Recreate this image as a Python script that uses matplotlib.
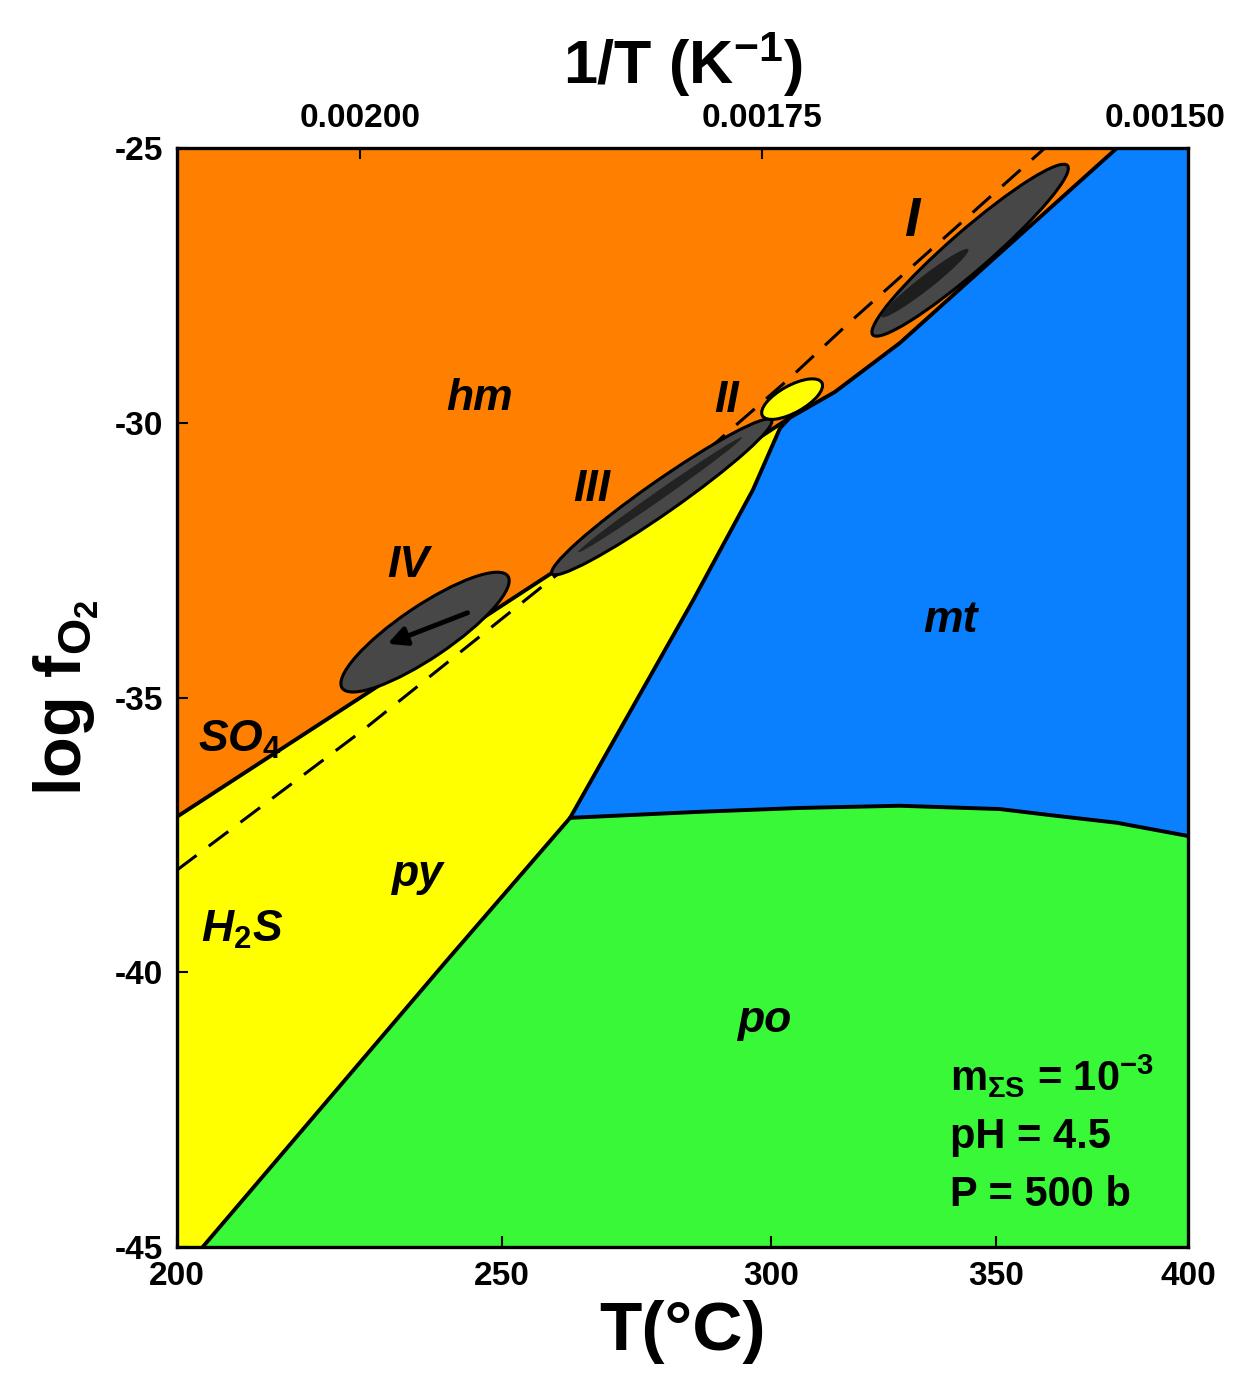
import numpy as np
import matplotlib
matplotlib.use("Agg")
import matplotlib.pyplot as plt
from matplotlib.patches import Ellipse
from matplotlib.transforms import ScaledTranslation

plt.rcParams["font.family"] = ["Liberation Sans", "DejaVu Sans"]
plt.rcParams["font.weight"] = "bold"
plt.rcParams["mathtext.fontset"] = "custom"
plt.rcParams["mathtext.rm"] = "Liberation Sans:bold"
plt.rcParams["mathtext.bf"] = "Liberation Sans:bold"
plt.rcParams["mathtext.it"] = "Liberation Sans:italic:bold"

# phase boundaries (T in degC, log fO2)
HM_PY_T = [200.0, 246.2, 303.9]
HM_PY_F = [-37.17, -33.59, -29.91]
HM_MT_T = [303.9, 313.4, 327.6, 380.6]
HM_MT_F = [-29.91, -29.44, -28.55, -25.0]
PY_MT_T = [303.9, 301.9, 296.4, 284.6, 261.8]
PY_MT_F = [-29.91, -30.10, -31.22, -33.23, -37.19]
PO_PY_T = [261.8, 240.8, 203.6]
PO_PY_F = [-37.19, -39.78, -45.0]
PO_MT_T = [261.8, 285.9, 306.0, 327.6, 350.9, 363.3, 380.6, 400.0]
PO_MT_F = [-37.19, -37.08, -37.01, -36.97, -37.03, -37.14, -37.28, -37.52]
# SO4 / H2S equal-activity line (dashed)
SO4_H2S_T = [200.0, 227.4, 249.1, 276.4, 303.9, 316.6, 362.0]
SO4_H2S_F = [-38.14, -35.59, -33.64, -31.41, -29.19, -28.17, -25.0]

# fluid inclusion fields I-IV: centre T, centre log fO2
FIELD_NAMES = ["IV", "III-II", "II", "I"]
FIELD_T = [237.2, 278.6, 304.4, 343.8]
FIELD_F = [-33.81, -31.35, -29.57, -26.86]
# trend arrow inside field IV
ARROW_T = [244.6, 230.8]
ARROW_F = [-33.44, -34.04]

# region labels
REGION_TEXT = ["hm", "mt", "py", "po", "III", "II", "IV"]
REGION_T = [246.2, 339.1, 236.1, 298.8, 265.7, 291.2, 234.5]
REGION_F = [-29.55, -33.59, -38.23, -40.87, -31.22, -29.59, -32.59]

T_TICKS = [200, 250, 300, 350, 400]
INV_TICKS = [0.00200, 0.00175, 0.00150]
INV_TICK_LABELS = ["0.00200", "0.00175", "0.00150"]
F_TICKS = [-25, -30, -35, -40, -45]
T_MIN, T_MAX = 200.0, 400.0
F_MIN, F_MAX = -45.0, -25.0

ORANGE = "#FF8000"
BLUE = "#0A80FF"
YELLOW = "#FFFF00"
GREEN = "#38F838"
DARK = "#474747"


def inv(t):
    return 1.0 / (np.asarray(t, dtype=float) + 273.15)


fig = plt.figure(figsize=(12.36, 13.91), dpi=100)
ax = fig.add_axes([177 / 1236, 144 / 1391, 1011 / 1236, 1099 / 1391])
ax.set_facecolor(ORANGE)

# mineral fields
py_t = HM_PY_T + PY_MT_T[1:] + PO_PY_T[1:] + [T_MIN]
py_f = HM_PY_F + PY_MT_F[1:] + PO_PY_F[1:] + [F_MIN]
ax.fill(inv(py_t), py_f, color=YELLOW, lw=0, zorder=1)

mt_t = HM_MT_T + [T_MAX] + PO_MT_T[::-1] + PY_MT_T[::-1][1:]
mt_f = HM_MT_F + [F_MAX] + PO_MT_F[::-1] + PY_MT_F[::-1][1:]
ax.fill(inv(mt_t), mt_f, color=BLUE, lw=0, zorder=1)

po_t = PO_MT_T + [T_MAX] + PO_PY_T[::-1]
po_f = PO_MT_F + [F_MIN] + PO_PY_F[::-1]
ax.fill(inv(po_t), po_f, color=GREEN, lw=0, zorder=1)

line_kw = dict(color="black", lw=2.8, solid_capstyle="round", zorder=3)
for tt, ff in [(HM_PY_T, HM_PY_F), (HM_MT_T, HM_MT_F), (PY_MT_T, PY_MT_F),
               (PO_PY_T, PO_PY_F), (PO_MT_T, PO_MT_F)]:
    ax.plot(inv(tt), ff, **line_kw)
ax.plot(inv(SO4_H2S_T), SO4_H2S_F, color="black", lw=2.2,
        linestyle=(0, (8, 5)), zorder=2)


def field(t, f, length, width, angle, **kw):
    tr = fig.dpi_scale_trans + ScaledTranslation(inv(t), f, ax.transData)
    ax.add_patch(Ellipse((0, 0), length / 100, width / 100, angle=angle,
                         transform=tr, **kw))


# sizes in pixels, angles in degrees
field(FIELD_T[0], FIELD_F[0], 200, 52, 34, fc=DARK, ec="black", lw=2.2, zorder=4)
field(FIELD_T[1], FIELD_F[1], 268, 32, 35, fc=DARK, ec="black", lw=2.2, zorder=4)
field(278.3, -31.31, 200, 9, 35, fc="#222222", ec="none", zorder=4)
field(FIELD_T[2], FIELD_F[2], 68, 27, 29, fc=YELLOW, ec="black", lw=2.2, zorder=4)
field(FIELD_T[3], FIELD_F[3], 258, 40, 41, fc=DARK, ec="black", lw=2.2, zorder=4)
field(333.3, -27.46, 110, 14, 38, fc="#1e1e1e", ec="none", zorder=4)

ax.annotate("", xy=(inv(ARROW_T[1]), ARROW_F[1]), xytext=(inv(ARROW_T[0]), ARROW_F[0]),
            arrowprops=dict(arrowstyle="-|>", color="black", lw=3.5, mutation_scale=28),
            zorder=5)

lab_kw = dict(fontsize=32, fontstyle="italic", fontweight="bold",
              ha="center", va="center", zorder=6)
for s, tt, ff in zip(REGION_TEXT, REGION_T, REGION_F):
    ax.text(inv(tt), ff, s, **lab_kw)
ax.text(inv(330.3), -26.35, "I", fontsize=40, fontstyle="italic",
        fontweight="bold", ha="center", va="center", zorder=6)
ax.text(inv(208.9), -35.77, r"SO$_{\mathit{4}}$", **lab_kw)
ax.text(inv(209.3), -39.23, r"H$_{\mathit{2}}$S", **lab_kw)

# conditions
ax.text(inv(339.0), -41.9, r"m$_{\Sigma \mathrm{S}}$ = 10$^{-3}$", fontsize=30,
        fontweight="bold", ha="left", va="center", zorder=6)
ax.text(inv(339.0), -43.0, "pH = 4.5", fontsize=30, fontweight="bold",
        ha="left", va="center", zorder=6)
ax.text(inv(339.0), -44.05, "P = 500 b", fontsize=30, fontweight="bold",
        ha="left", va="center", zorder=6)

ax.set_xlim(inv(T_MIN), inv(T_MAX))
ax.set_ylim(F_MIN, F_MAX)
ax.set_xticks(inv(T_TICKS))
ax.set_xticklabels([str(t) for t in T_TICKS])
ax.set_yticks(F_TICKS)
ax.set_yticklabels([str(v) for v in F_TICKS])
ax.tick_params(direction="in", length=8, width=1.5, labelsize=24, pad=10)
for lab in ax.get_xticklabels() + ax.get_yticklabels():
    lab.set_fontweight("bold")
for sp in ax.spines.values():
    sp.set_linewidth(2.4)
    sp.set_zorder(7)

top = ax.secondary_xaxis("top")
top.set_xticks(INV_TICKS)
top.set_xticklabels(INV_TICK_LABELS)
top.tick_params(direction="in", length=8, width=1.5, labelsize=24, pad=10)
for lab in top.get_xticklabels():
    lab.set_fontweight("bold")
top.set_xlabel("1/T (K$^{-1}$)", fontsize=44, fontweight="bold", labelpad=14)

ax.set_xlabel("T(°C)", fontsize=50, fontweight="bold", labelpad=6)
ax.set_ylabel(r"log f$_{\mathrm{O}_2}$", fontsize=48, fontweight="bold", labelpad=10)

fig.savefig("out.png", dpi=100)
